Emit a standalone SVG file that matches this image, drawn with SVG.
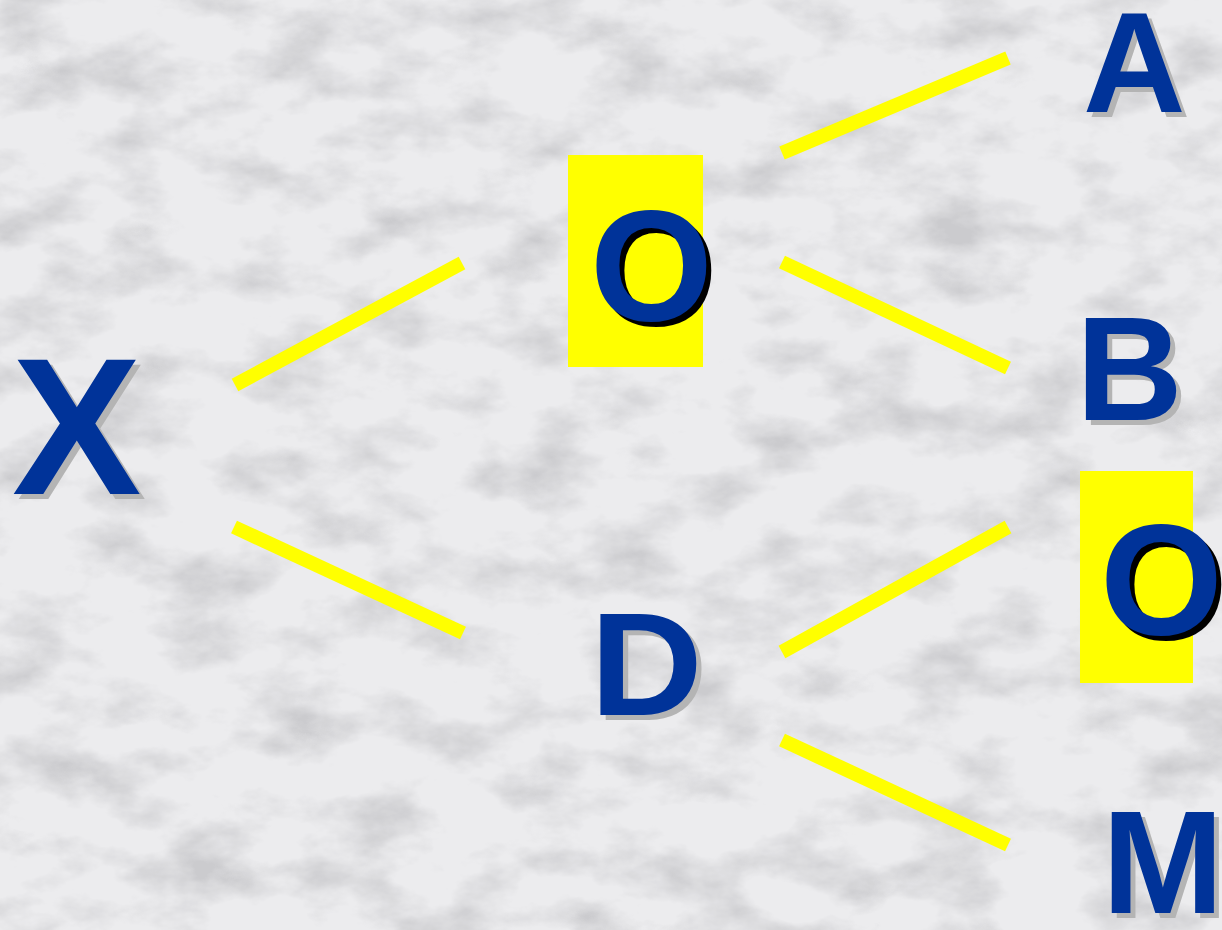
<svg xmlns="http://www.w3.org/2000/svg" width="1222" height="930" viewBox="0 0 1222 930">
  <defs>
    <filter id="marble" x="0" y="0" width="1222" height="930" filterUnits="userSpaceOnUse">
      <feTurbulence type="fractalNoise" baseFrequency="0.012 0.02" numOctaves="5" seed="11" result="n"/>
      <feColorMatrix in="n" type="matrix" values="0 0 0 0 0.6  0 0 0 0 0.6  0 0 0 0 0.62  2.4 0 0 0 -1.05" result="g"/>
      <feComposite in="g" in2="SourceGraphic" operator="over"/>
    </filter>
    <style>
      .lbl { font-family: "Liberation Sans", Arial, sans-serif; font-weight: bold; fill: #003399; }
      .sh { font-family: "Liberation Sans", Arial, sans-serif; font-weight: bold; fill: #b4b4b4; }
      .shk { font-family: "Liberation Sans", Arial, sans-serif; font-weight: bold; fill: #000000; }
      .hl { fill: #ffff00; }
      .conn line { stroke: #ffff00; stroke-width: 14; stroke-linecap: butt; }
    </style>
  </defs>
  <rect x="0" y="0" width="1222" height="930" fill="#ececee" filter="url(#marble)"/>

  <g id="connectors" class="conn">
    <line x1="235" y1="385" x2="462" y2="263"/>
    <line x1="234" y1="527" x2="463" y2="633"/>
    <line x1="782" y1="153" x2="1008" y2="58"/>
    <line x1="782" y1="262" x2="1008" y2="368"/>
    <line x1="782" y1="652" x2="1008" y2="527"/>
    <line x1="782" y1="740" x2="1008" y2="845"/>
  </g>

  <g id="node-X">
    <text class="sh" x="17" y="499" font-size="194">X</text>
    <text class="lbl" x="12" y="494" font-size="194">X</text>
  </g>
  <g id="node-O1">
    <rect class="hl" x="568" y="155" width="135" height="212"/>
    <text class="shk" x="595" y="325" font-size="158">O</text>
    <text class="lbl" x="590" y="320" font-size="158">O</text>
  </g>
  <g id="node-D" transform="translate(590 0) scale(1.07 1)">
    <text class="sh" x="5" y="720" font-size="146">D</text>
    <text class="lbl" x="0" y="715" font-size="146">D</text>
  </g>
  <g id="node-A">
    <text class="sh" x="1088" y="117" font-size="142">A</text>
    <text class="lbl" x="1083" y="112" font-size="142">A</text>
  </g>
  <g id="node-B">
    <text class="sh" x="1081" y="425" font-size="148">B</text>
    <text class="lbl" x="1076" y="420" font-size="148">B</text>
  </g>
  <g id="node-O2">
    <rect class="hl" x="1080" y="471" width="113" height="212"/>
    <text class="shk" x="1105" y="639" font-size="158">O</text>
    <text class="lbl" x="1100" y="634" font-size="158">O</text>
  </g>
  <g id="node-M">
    <text class="sh" x="1107" y="918" font-size="146">M</text>
    <text class="lbl" x="1102" y="913" font-size="146">M</text>
  </g>
</svg>
